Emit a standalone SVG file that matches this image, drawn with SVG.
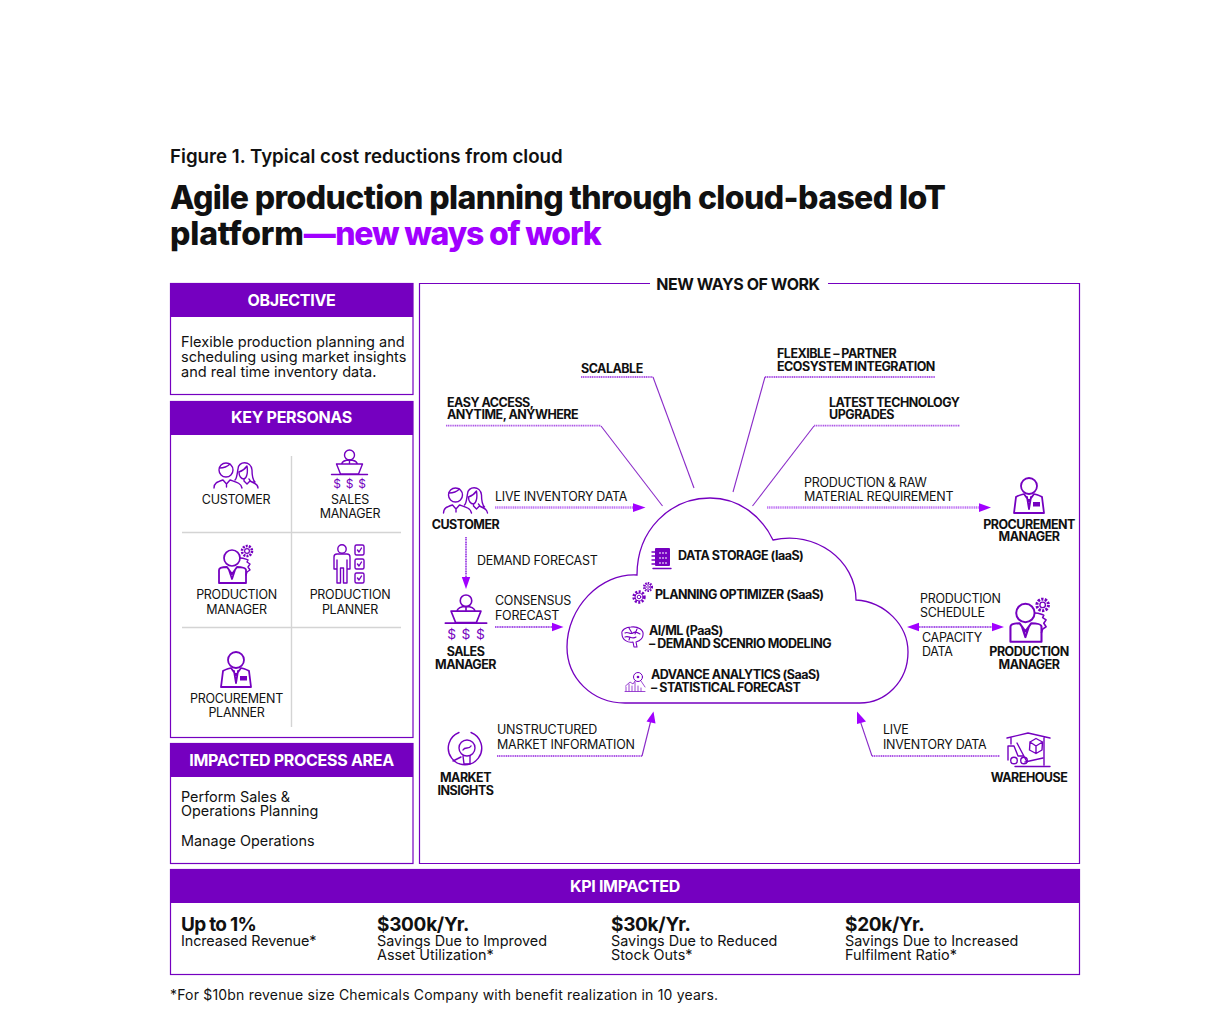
<svg xmlns="http://www.w3.org/2000/svg" width="1226" height="1015" viewBox="0 0 1226 1015">
<style>
text{font-family:Inter,"Liberation Sans",sans-serif;fill:#111}
.fig{font-size:18.7px;font-weight:600}
.title{font-size:32px;font-weight:800;letter-spacing:-.6px}
.hd{font-size:16px;font-weight:700;fill:#fff;text-anchor:middle;letter-spacing:-.3px}
.nw{font-size:16px;font-weight:700;text-anchor:middle;letter-spacing:-.45px}
.body{font-size:14.55px;font-weight:400}
.kb{font-size:14.4px;font-weight:400}
.lab{font-size:12.5px;font-weight:400;letter-spacing:-.27px}
.c{text-anchor:middle}
.b{font-size:12.5px;font-weight:700;letter-spacing:-.5px}
.kpi{font-size:19px;font-weight:700;letter-spacing:-.3px}
.box{fill:none;stroke:#7500c0;stroke-width:1.2}
.head{fill:#7500c0;stroke:none}
.grid{stroke:#d4d4d4;stroke-width:1.4;fill:none}
.ic{fill:none;stroke:#7500c0;stroke-width:1.4;stroke-linejoin:round;stroke-linecap:round}
.icf{fill:#7500c0;stroke:none}
.dol{font-size:12px;fill:#7500c0;text-anchor:middle}
.dot{fill:none;stroke:#a030ee;stroke-width:2.6;stroke-dasharray:1.2 .6;opacity:.65}
.dots{fill:none;stroke:#9a30e0;stroke-width:1.8;stroke-dasharray:1.2 .6;opacity:.8}
.thin{fill:none;stroke:#8a20e0;stroke-width:1.5;stroke-dasharray:1.2 .5}
.lead{fill:none;stroke:#8a2bc8;stroke-width:1.1}
.ah{fill:#a100ff;stroke:none}
</style>
<defs>
<g id="i-customer">
<circle cx="-10" cy="-5" r="7" class="ic"/>
<path class="ic" d="M-16.500 -7C-12 -7 -8 -9 -6 -11M-22 13C-22 8 -19 7 -13 5L-9.500 9L-6 5C0 7 5 8 6 13M-9.500 9V12"/>
<path class="ic" d="M2 -6C2 -14 15 -15 16 -5C16 0 17 5 19 7C16 8 14 6 13 4M2 -6C1 -1 1 3 -1 5M3 -3C6 -4 9 -6 11 -9C12 -3 11 3 8 4C5 4 3 1 3 -3ZM8 4V6L11 9L14 6L18 8C20 9 22 10 22 13"/>
</g>
<g id="i-sales">
<circle cx="0" cy="-15" r="5" class="ic"/>
<path class="ic" d="M-8 -6C-7 -9 -4 -10 0 -10C4 -10 7 -9 8 -6M-13 -6H13L9 4H-9ZM0 -9V-7M-18 4.500H18"/>
<text x="-12.500" y="18" class="dol">$</text><text x="0" y="18" class="dol">$</text><text x="12.500" y="18" class="dol">$</text>
</g>
<g id="i-prodmgr">
<circle cx="-4" cy="-7" r="8" class="ic" style="stroke-width:1.700"/>
<path class="ic" style="stroke-width:1.800" d="M-9 2C-13 2 -17 3 -17 5V18H10V5C10 3 6 2 1 2L-4 9ZM-7 5L-4 14L-1 5"/>
<circle cx="11" cy="-14" r="5" fill="none" stroke="#7500c0" stroke-width="2.600" stroke-dasharray="2 1.100"/>
<circle cx="11" cy="-14" r="2.400" class="ic" style="stroke-width:1.200"/>
<path class="ic" style="stroke-width:1.400" d="M4 -7C8 -7 9 -6 12 -5L11 -3L14 -1L12 2L14 5L11 7L10 10"/>
</g>
<g id="i-planner">
<circle cx="-6" cy="-16" r="4.200" class="ic"/>
<path class="ic" d="M-14 -8Q-14 -11 -11 -11H-1Q2 -11 2 -8V4H-1V-5M-14 -8V4H-11V-5V18H-7.500V3H-4.500V18H-1V-5"/>
<rect x="7" y="-20" width="9" height="10" rx="1.500" class="ic"/>
<rect x="7" y="-6" width="9" height="10" rx="1.500" class="ic"/>
<rect x="7" y="8" width="9" height="10" rx="1.500" class="ic"/>
<path class="ic" d="M9.500 -15L11 -13L13.500 -17M9.500 -1L11 1L13.500 -3M9.500 13L11 15L13.500 11"/>
</g>
<g id="i-procure">
<circle cx="0" cy="-9" r="8" class="ic" style="stroke-width:1.800"/>
<path class="ic" style="stroke-width:1.800" d="M-5 -1C-9 0 -12 1 -13 2L-15 18H15L13 2C12 1 9 0 5 -1L0 6ZM-2 2L0 14L2 2"/>
<rect x="4" y="7" width="7" height="4.500" class="icf"/>
</g>
<g id="i-gear">
<circle r="5.400" fill="none" stroke="#7500c0" stroke-width="2.600" stroke-dasharray="2 1.500"/>
<circle r="4" class="ic" style="stroke-width:1"/>
<circle r="1.800" class="ic" style="stroke-width:1"/>
</g>
</defs>

<g id="heading">
<text x="170" y="163" class="fig">Figure 1. Typical cost reductions from cloud</text>
<text x="170" y="209" class="title">Agile production planning through cloud-based IoT</text>
<text x="170" y="245" class="title"><tspan style="letter-spacing:-.15px">platform</tspan><tspan fill="#a100ff">—</tspan><tspan fill="#a100ff" style="letter-spacing:-1.2px">new ways of work</tspan></text>
</g>

<g id="objective">
<rect x="170.500" y="283.500" width="242.500" height="111" class="box"/>
<rect x="170" y="283" width="243" height="34" class="head"/>
<text x="291.500" y="305.500" class="hd">OBJECTIVE</text>
<text class="body"><tspan x="181" y="347">Flexible production planning and</tspan><tspan x="181" y="362">scheduling using market insights</tspan><tspan x="181" y="377">and real time inventory data.</tspan></text>
</g>

<g id="key-personas">
<rect x="170.500" y="401.500" width="242.500" height="336" class="box"/>
<rect x="170" y="401" width="243" height="34" class="head"/>
<text x="291.500" y="423" class="hd">KEY PERSONAS</text>
<path class="grid" d="M291.500 456V727M182 532.500H401M182 627.500H401"/>
<use href="#i-customer" x="236" y="475"/>
<text x="236" y="504" class="lab c">CUSTOMER</text>
<use href="#i-sales" x="349.500" y="470"/>
<text x="350" y="504" class="lab c">SALES</text>
<text x="350" y="518" class="lab c">MANAGER</text>
<use href="#i-prodmgr" x="236" y="565"/>
<text x="236.500" y="599" class="lab c">PRODUCTION</text>
<text x="236.500" y="614" class="lab c">MANAGER</text>
<use href="#i-planner" x="348" y="565"/>
<text x="350" y="599" class="lab c">PRODUCTION</text>
<text x="350" y="614" class="lab c">PLANNER</text>
<use href="#i-procure" x="236" y="669"/>
<text x="236.500" y="703" class="lab c">PROCUREMENT</text>
<text x="236.500" y="717" class="lab c">PLANNER</text>
</g>

<g id="impacted">
<rect x="170.500" y="743.500" width="242.500" height="120" class="box"/>
<rect x="170" y="743" width="243" height="34" class="head"/>
<text x="291.500" y="765.500" class="hd">IMPACTED PROCESS AREA</text>
<text class="kb"><tspan x="181" y="802">Perform Sales &amp;</tspan><tspan x="181" y="816">Operations Planning</tspan><tspan x="181" y="846">Manage Operations</tspan></text>
</g>

<g id="new-ways-frame">
<path class="box" d="M650 283.500H419.500V863.500H1079.500V283.500H828"/>
<text x="738" y="289.500" class="nw">NEW WAYS OF WORK</text>
</g>

<g id="cloud">
<path d="M637 575C637 530 670 498 710 498C740 498 762 517 773 540C815 530 856 560 856 600C885 602 908 625 908 652C908 682 885 703 860 703L625 703C592 703 567 678 567 647C567 608 600 573 637 575Z" fill="#fff" stroke="#7500c0" stroke-width="1.300"/>
<g>
<rect x="655" y="548" width="15" height="18" rx="1" class="icf"/>
<path d="M652 552H655M652 556H655M652 560H655M652 564H655M653 568.500H671" class="ic"/>
<path d="M659 553H667M659 558H667M659 563H667" stroke="#fff" stroke-width="1.200" stroke-dasharray="2 1" fill="none"/>
<text x="678" y="560" class="b">DATA STORAGE (IaaS)</text>
</g>
<g>
<use href="#i-gear" x="639" y="597"/>
<use href="#i-gear" transform="translate(648 587) scale(.75)"/>
<text x="655" y="599" class="b">PLANNING OPTIMIZER (SaaS)</text>
</g>
<g>
<path class="ic" style="stroke-width:1.100" d="M622 634C621 630 626 627 631 627C638 626 644 630 643 635C643 639 639 641 636 642L637 647L634 647L633 642C628 643 622 640 622 634ZM625 633C628 631 630 635 633 633C635 631 637 632 640 634M625 637C629 635 632 640 636 637M629 628L632 633M637 629L635 634M630 637L629 640"/>
<text x="649" y="635" class="b">AI/ML (PaaS)</text>
<text x="649" y="648" class="b">– DEMAND SCENRIO MODELING</text>
</g>
<g>
<circle cx="638" cy="677" r="4.500" class="ic" style="stroke-width:1"/>
<circle cx="638" cy="677" r="1.300" class="icf"/>
<path class="ic" style="stroke-width:.9;opacity:.8" d="M641 681L645 687M625 691.500H645M626 691V687M629 691V684M632 691V686M635 691V682M638 691V686M641 691V688M625.500 686L630 682L633 684L635 681"/>
<text x="651" y="679" class="b">ADVANCE ANALYTICS (SaaS)</text>
<text x="651" y="692" class="b">– STATISTICAL FORECAST</text>
</g>
</g>

<g id="connectors">
<path class="dot" d="M495 507.500H634"/><path class="ah" d="M633 503.300L645.500 507.600L633 512Z"/>
<path class="thin" d="M466 537V578"/><path class="ah" d="M461.800 577H470.200L466 589Z"/>
<path class="thin" d="M495 627H553"/><path class="ah" d="M552 622.800L563.500 627L552 631.200Z"/>
<path class="dot" d="M767 507.500H980"/><path class="ah" d="M979 503.300L991 507.600L979 512Z"/>
<path class="thin" d="M917 627H994"/><path class="ah" d="M919 622.800L907 627L919 631.200ZM992 622.800L1004 627L992 631.200Z"/>
<path class="dots" d="M497 756H642"/><path class="lead" d="M642 756L650.500 722"/><path class="ah" d="M653.500 711.500L655.500 723.500L646.500 721.500Z"/>
<path class="dots" d="M872 756H1000"/><path class="lead" d="M872 756L860.500 722"/><path class="ah" d="M857 711.500L866 721.500L857 724Z"/>
<path class="dots" d="M446 425.700H601"/><path class="lead" d="M601 426L662.500 506"/>
<path class="dots" d="M581 377H653"/><path class="lead" d="M653 377L694 488"/>
<path class="dots" d="M765 377H935"/><path class="lead" d="M765 377L733 492"/>
<path class="dots" d="M814 425.700H960"/><path class="lead" d="M814 426L752.500 506"/>
</g>

<g id="cloud-labels">
<text x="581" y="373" class="b">SCALABLE</text>
<text x="447" y="407" class="b">EASY ACCESS,</text><text x="447" y="419" class="b">ANYTIME, ANYWHERE</text>
<text x="777" y="358" class="b">FLEXIBLE – PARTNER</text><text x="777" y="371" class="b">ECOSYSTEM INTEGRATION</text>
<text x="829" y="407" class="b">LATEST TECHNOLOGY</text><text x="829" y="419" class="b">UPGRADES</text>
<text x="495" y="501" class="lab">LIVE INVENTORY DATA</text>
<text x="804" y="487" class="lab">PRODUCTION &amp; RAW</text><text x="804" y="501" class="lab">MATERIAL REQUIREMENT</text>
<text x="477" y="565" class="lab">DEMAND FORECAST</text>
<text x="495" y="605" class="lab">CONSENSUS</text><text x="495" y="620" class="lab">FORECAST</text>
<text x="920" y="603" class="lab">PRODUCTION</text><text x="920" y="617" class="lab">SCHEDULE</text>
<text x="922" y="642" class="lab">CAPACITY</text><text x="922" y="656" class="lab">DATA</text>
<text x="497" y="734" class="lab">UNSTRUCTURED</text><text x="497" y="749" class="lab">MARKET INFORMATION</text>
<text x="883" y="734" class="lab">LIVE</text><text x="883" y="749" class="lab">INVENTORY DATA</text>
</g>

<g id="customer"><use href="#i-customer" x="465.500" y="500"/><text x="465.500" y="529" class="b c">CUSTOMER</text></g>
<g id="sales-manager"><use href="#i-sales" transform="translate(466 618) scale(1.15)"/><text x="465.500" y="656" class="b c">SALES</text><text x="465.500" y="669" class="b c">MANAGER</text></g>
<g id="market-insights">
<path class="ic" d="M471 732.500A16.700 16.700 0 1 1 459 732.500"/>
<circle cx="467" cy="748" r="8" class="ic"/>
<path class="ic" d="M463 750C465 746 469 750 471 746M463 756L464 764H470V756M453 761L461 757"/>
<text x="465.500" y="782" class="b c">MARKET</text><text x="465.500" y="795" class="b c">INSIGHTS</text>
</g>
<g id="procurement-manager"><use href="#i-procure" x="1029" y="495"/><text x="1029" y="529" class="b c">PROCUREMENT</text><text x="1029" y="541" class="b c">MANAGER</text></g>
<g id="production-manager"><use href="#i-prodmgr" transform="translate(1030 621) scale(1.15)"/><text x="1029" y="656" class="b c">PRODUCTION</text><text x="1029" y="669" class="b c">MANAGER</text></g>
<g id="warehouse">
<path class="ic" d="M1007 738L1028 733L1050 738M1044 738V765M1011 738V744M1015 766.500H1050"/>
<path class="ic" d="M1008 760V746H1014L1018 756H1023M1017 743L1027 762M1025 762L1043 758"/>
<circle cx="1014" cy="760.500" r="3.300" class="ic"/><circle cx="1024" cy="760.500" r="3.300" class="ic"/>
<path class="ic" d="M1036 738.500L1042.500 742L1042 750L1036 753.500L1029.500 750L1030 742ZM1030 742L1036 746L1042.500 742M1036 746V753.500"/>
<text x="1029" y="782" class="b c">WAREHOUSE</text>
</g>

<g id="kpi">
<rect x="170.500" y="869.500" width="909" height="105" class="box"/>
<rect x="170" y="869" width="910" height="34" class="head"/>
<text x="625" y="891.500" class="hd">KPI IMPACTED</text>
<text x="181" y="931" class="kpi" style="letter-spacing:-.7px">Up to 1%</text>
<text x="181" y="946" class="kb" style="letter-spacing:-.1px">Increased Revenue*</text>
<text x="377" y="931" class="kpi">$300k/Yr.</text>
<text class="kb"><tspan x="377" y="946">Savings Due to Improved</tspan><tspan x="377" y="960">Asset Utilization*</tspan></text>
<text x="611" y="931" class="kpi">$30k/Yr.</text>
<text class="kb"><tspan x="611" y="946">Savings Due to Reduced</tspan><tspan x="611" y="960">Stock Outs*</tspan></text>
<text x="845" y="931" class="kpi">$20k/Yr.</text>
<text class="kb"><tspan x="845" y="946">Savings Due to Increased</tspan><tspan x="845" y="960">Fulfilment Ratio*</tspan></text>
</g>
<text id="footnote" x="170" y="1000" style="font-size:14px;letter-spacing:.19px">*For $10bn revenue size Chemicals Company with benefit realization in 10 years.</text>
</svg>
